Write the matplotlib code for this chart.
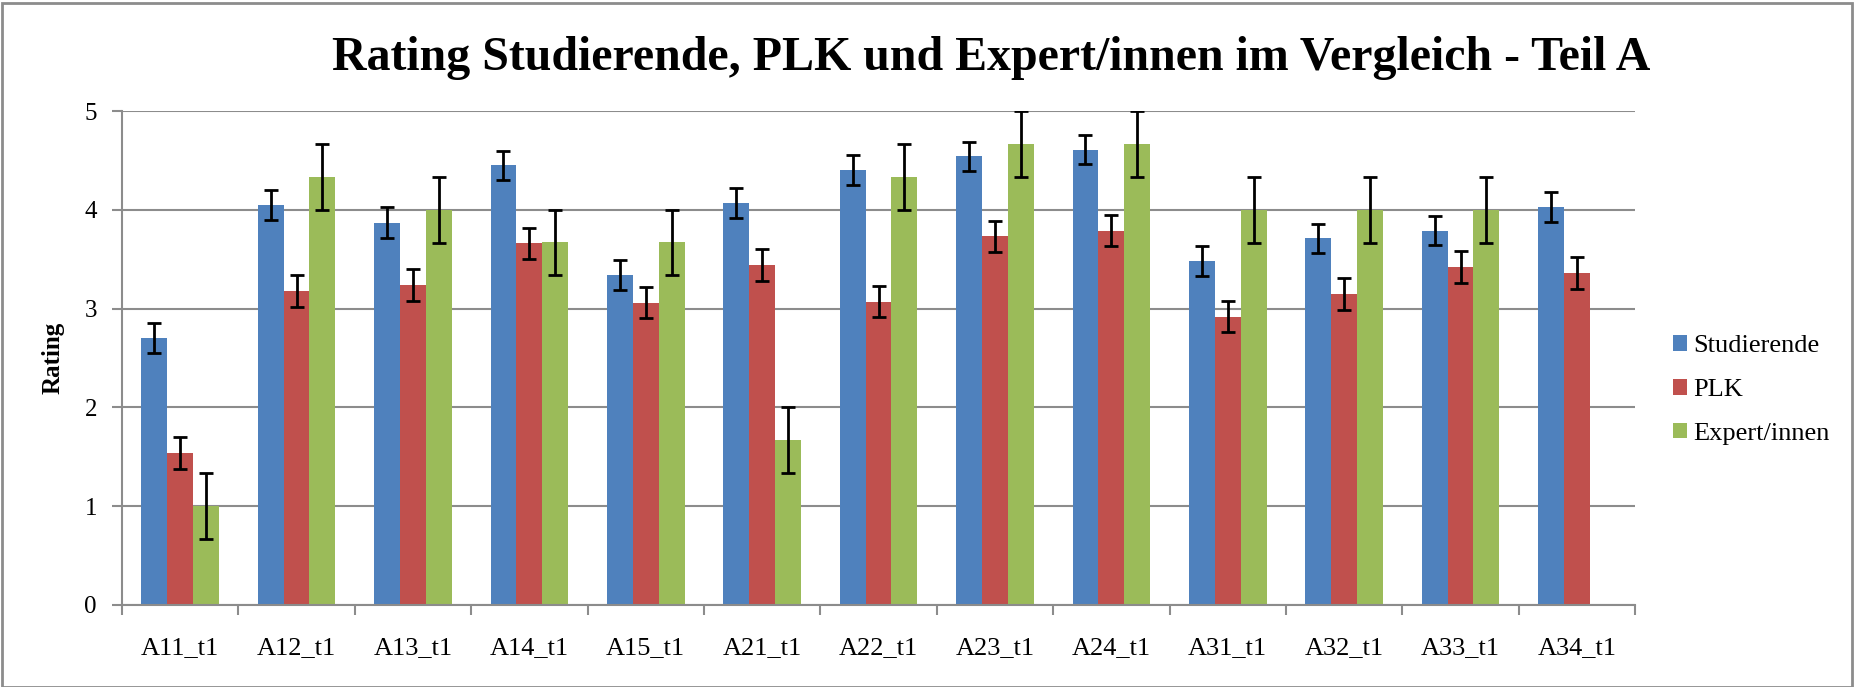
import numpy as np
import matplotlib.pyplot as plt
from matplotlib.patches import Rectangle

# ratings
categories = ['A11_t1', 'A12_t1', 'A13_t1', 'A14_t1', 'A15_t1', 'A21_t1', 'A22_t1',
              'A23_t1', 'A24_t1', 'A31_t1', 'A32_t1', 'A33_t1', 'A34_t1']
studierende = [2.70, 4.05, 3.87, 4.45, 3.34, 4.07, 4.40, 4.54, 4.61, 3.48, 3.71, 3.79, 4.03]
studierende_err = [0.15, 0.15, 0.155, 0.15, 0.15, 0.15, 0.15, 0.15, 0.15, 0.15, 0.15, 0.15, 0.15]
plk = [1.54, 3.18, 3.24, 3.66, 3.06, 3.44, 3.07, 3.73, 3.79, 2.92, 3.15, 3.42, 3.36]
plk_err = [0.16, 0.16, 0.16, 0.16, 0.16, 0.16, 0.16, 0.16, 0.16, 0.16, 0.16, 0.16, 0.16]
experten = [1.0, 4.33, 4.0, 3.67, 3.67, 1.67, 4.33, 4.67, 4.67, 4.0, 4.0, 4.0, np.nan]
experten_err = [0.333, 0.333, 0.333, 0.333, 0.333, 0.333, 0.333, 0.333, 0.333, 0.333, 0.333, 0.333, np.nan]

series = [('Studierende', studierende, studierende_err, '#4F81BD'),
          ('PLK', plk, plk_err, '#C0504D'),
          ('Expert/innen', experten, experten_err, '#9BBB59')]

plt.rcParams['font.family'] = ['Liberation Serif', 'DejaVu Serif']

fig = plt.figure(figsize=(18.56, 6.87), dpi=100)
ax = fig.add_axes([0.0657, 0.1194, 0.8153, 0.719])

x = np.arange(len(categories))
w = 1 / 4.5
for i, (name, vals, errs, col) in enumerate(series):
    ax.bar(x + (i - 1) * w, vals, w, color=col, label=name, zorder=2)
    ax.errorbar(x + (i - 1) * w, vals, yerr=errs, fmt='none', ecolor='black',
                elinewidth=2, capsize=5, capthick=2, zorder=3)

ax.set_xlim(-0.5, len(categories) - 0.5)
ax.set_ylim(0, 5)
ax.set_yticks(range(6))
ax.yaxis.grid(True, color='#8c8c8c', linewidth=1.5, zorder=0)
ax.set_axisbelow(True)
for s in ['top', 'right']:
    ax.spines[s].set_visible(False)
for s in ['left', 'bottom']:
    ax.spines[s].set_color('#8c8c8c')
    ax.spines[s].set_linewidth(1.5)

ax.set_xticks(x)
ax.set_xticklabels(categories)
ax.set_xticks(np.arange(-0.5, len(categories)), minor=True)
ax.tick_params(axis='x', which='major', length=0, pad=23, labelsize=19)
ax.tick_params(axis='x', which='minor', length=7, width=1.5, color='#8c8c8c')
ax.tick_params(axis='y', length=7, width=1.5, color='#8c8c8c', pad=11, labelsize=18)

ax.set_ylabel('Rating', fontsize=18, fontweight='bold', labelpad=14)

fig.text(0.534, 0.915, 'Rating Studierende, PLK und Expert/innen im Vergleich - Teil A',
         ha='center', va='center', fontsize=34.5, fontweight='bold')

ax.legend(loc='center left', bbox_to_anchor=(1.025, 0.435), frameon=False,
          fontsize=19, handlelength=0.53, handleheight=0.53, handletextpad=0.25,
          labelspacing=0.82, borderpad=0, borderaxespad=0)

fig.patches.append(Rectangle((0.001, 0.0), 0.997, 0.996, transform=fig.transFigure,
                             fill=False, edgecolor='#8c8c8c', linewidth=2))

fig.savefig('out.png', dpi=100)
